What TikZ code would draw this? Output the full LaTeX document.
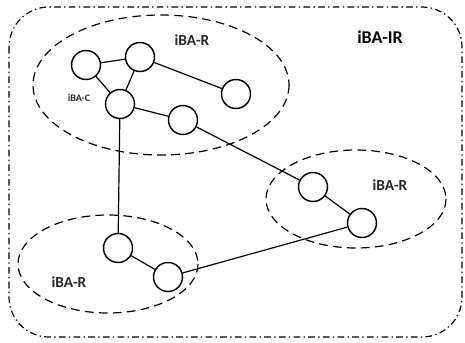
\documentclass[tikz,border=0pt]{standalone}
\usepackage{fontspec}
\setmainfont{Carlito}
\usepackage{tikz}
\usetikzlibrary{calc}

\begin{document}
\begin{tikzpicture}[x=0.75pt, y=-0.75pt,
    router/.style={circle, draw, line width=1.1pt, minimum size=21.75pt, inner sep=0pt},
    region/.style={draw, line width=0.9pt, dash pattern=on 6.5pt off 4pt},
    link/.style={line width=0.9pt},
    lbl/.style={font=\bfseries\fontsize{11.5}{12}\selectfont, text=black!85}]
  \useasboundingbox (0,0) rectangle (465,343);
  % Outer domain
  \draw[line width=0.9pt, dash pattern=on 5pt off 2.5pt on 1pt off 2.5pt, rounded corners=30]
    (9,7) rectangle (462,337);
  \node[font=\bfseries\fontsize{13.5}{14}\selectfont] (ir) at (380,37) {iBA-IR};
  % Regions
  \draw[region] (161,85) ellipse [x radius=128, y radius=70];
  \draw[region] (356,199) ellipse [x radius=90, y radius=49];
  \draw[region] (108,264) ellipse [x radius=90, y radius=49];
  \node[lbl] (r1) at (192,40) {iBA-R};
  \node[lbl] (r2) at (390,185) {iBA-R};
  \node[lbl] (r3) at (69,282) {iBA-R};
  \node[font=\bfseries\fontsize{7.5}{8}\selectfont, text=black!85] (c) at (79,98) {iBA-C};
  % Routers
  \node[router] (a) at (86,65) {};
  \node[router] (b) at (140,57) {};
  \node[router] (m) at (120,104) {};
  \node[router] (d) at (236,94) {};
  \node[router] (e) at (183,120) {};
  \node[router] (f) at (313,187) {};
  \node[router] (g) at (362,223) {};
  \node[router] (h) at (118,248) {};
  \node[router] (i) at (168,277) {};
  % Links
  \draw[link] (a) -- (b);
  \draw[link] (a) -- (m);
  \draw[link] (b) -- (m);
  \draw[link] (b) -- (d);
  \draw[link] (m) -- (e);
  \draw[link] (e) -- (f);
  \draw[link] (f) -- (g);
  \draw[link] (m) -- (h);
  \draw[link] (h) -- (i);
  \draw[link] (i) -- (g);
\end{tikzpicture}
\end{document}
